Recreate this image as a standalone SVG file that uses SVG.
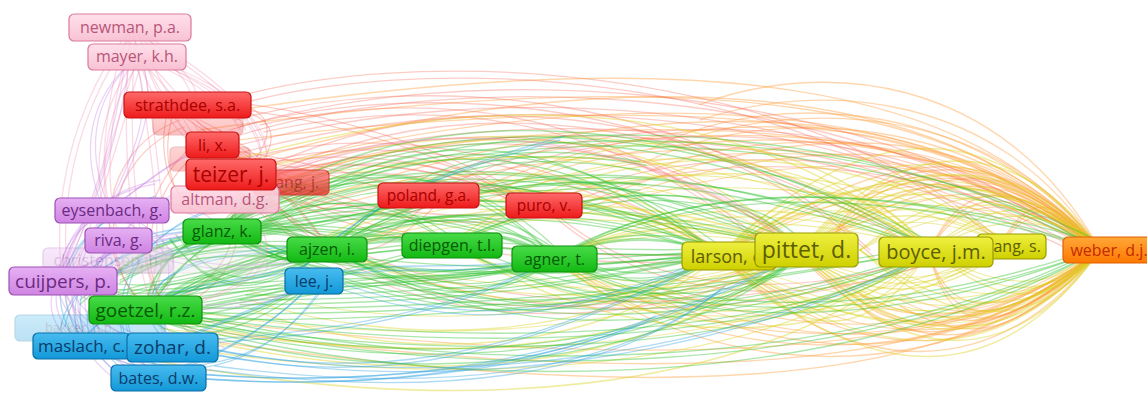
<svg xmlns="http://www.w3.org/2000/svg" xmlns:xlink="http://www.w3.org/1999/xlink" width="1147" height="399" viewBox="0 0 1147 399">
<defs>
<linearGradient id="gRed" x1="0" y1="0" x2="0" y2="1"><stop offset="0" stop-color="#ff6a6a"/><stop offset="1" stop-color="#ee1a1a"/></linearGradient>
<linearGradient id="gPink" x1="0" y1="0" x2="0" y2="1"><stop offset="0" stop-color="#ffdde8"/><stop offset="1" stop-color="#f8bccf"/></linearGradient>
<linearGradient id="gPurple" x1="0" y1="0" x2="0" y2="1"><stop offset="0" stop-color="#e6b0f4"/><stop offset="1" stop-color="#cf84e2"/></linearGradient>
<linearGradient id="gGreen" x1="0" y1="0" x2="0" y2="1"><stop offset="0" stop-color="#48dc48"/><stop offset="1" stop-color="#12b812"/></linearGradient>
<linearGradient id="gBlue" x1="0" y1="0" x2="0" y2="1"><stop offset="0" stop-color="#48bcf0"/><stop offset="1" stop-color="#1298d8"/></linearGradient>
<linearGradient id="gYellow" x1="0" y1="0" x2="0" y2="1"><stop offset="0" stop-color="#eef040"/><stop offset="1" stop-color="#cfd000"/></linearGradient>
<linearGradient id="gOrange" x1="0" y1="0" x2="0" y2="1"><stop offset="0" stop-color="#ffa838"/><stop offset="1" stop-color="#ff7800"/></linearGradient>
</defs>
<style>
text{font-family:"Open Sans","Liberation Sans",sans-serif;text-anchor:middle}
.c path{fill:none;stroke-width:1.3;stroke-linecap:round}
.red path{stroke:#f45a46;stroke-opacity:.3}
.org path{stroke:#ffa040;stroke-opacity:.42}
.yel path{stroke:#dcd21e;stroke-opacity:.42}
.grn path{stroke:#2cc02c;stroke-opacity:.4}
.blu path{stroke:#2aa0e0;stroke-opacity:.38}
.pur path{stroke:#c478e2;stroke-opacity:.32}
.pnk path{stroke:#f08cb0;stroke-opacity:.32}
.n rect{stroke-width:1.2}
.red-n rect{fill:url(#gRed);stroke:#c81212}
.red-n text{fill:#a80000}
.pnk-n rect{fill:url(#gPink);stroke:#dc7a9c;fill-opacity:.9}
.pnk-n text{fill:#b8557a}
.pur-n rect{fill:url(#gPurple);stroke:#9c52b4}
.pur-n text{fill:#6a2a82}
.grn-n rect{fill:url(#gGreen);stroke:#0e900e}
.grn-n text{fill:#075a07}
.blu-n rect{fill:url(#gBlue);stroke:#0a6ea6}
.blu-n text{fill:#0a3c6a}
.yel-n rect{fill:url(#gYellow);stroke:#9a9a00}
.yel-n text{fill:#5e5e00}
.org-n rect{fill:url(#gOrange);stroke:#e06000}
.org-n text{fill:#c42a00}
.faded{opacity:.28}
</style>
<rect width="1147" height="399" fill="#ffffff"/>
<g id="connectors" class="c">
<g id="cOrg" class="org">
<path d="M1100 250 C950 90,600 80,250 170"/>
<path d="M1100 250 C950 110,650 100,300 210"/>
<path d="M1100 250 C980 130,800 130,580 210"/>
<path d="M1100 250 C1000 160,950 170,800 250"/>
<path d="M1100 250 C1000 150,900 150,720 255"/>
<path d="M1100 250 C1000 350,900 350,800 255"/>
<path d="M1100 250 C1000 370,850 370,720 255"/>
<path d="M1100 250 C950 390,600 380,200 330"/>
<path d="M1100 250 C1000 330,950 330,930 255"/>
<path d="M1100 250 C1050 200,1030 200,1000 245"/>
<path d="M1100 250 C950 120,700 110,480 195"/>
<path d="M1100 250 C960 380,700 370,560 260"/>
<path d="M1100 250 C980 100,700 60,200 130"/>
<path d="M1100 250 C1000 140,850 170,830 250"/>
<path d="M1100 250 C990 120,780 100,650 160"/>
<path d="M1100 250 C1010 180,960 190,930 250"/>
<path d="M1100 250 C1010 330,900 340,860 300"/>
<path d="M1100 250 C1000 90,820 80,700 120"/>
<path d="M1100 250 C1020 320,980 340,900 300"/>
<path d="M1100 250 C950 360,800 350,650 290"/>
</g>
<use href="#cOrg" transform="translate(0,250) scale(1,1.12) translate(0,-250)"/>
<use href="#cOrg" transform="translate(0,250) scale(1,0.88) translate(0,-250)"/>
<g id="cRed" class="red">
<path d="M230 130 C450 60,850 70,1100 250"/>
<path d="M240 145 C480 80,820 90,1090 250"/>
<path d="M250 175 C500 100,800 110,1085 252"/>
<path d="M235 120 C420 70,700 90,870 250"/>
<path d="M260 180 C450 110,650 120,800 250"/>
<path d="M240 160 C380 120,550 150,730 255"/>
<path d="M220 140 C300 190,400 230,540 210"/>
<path d="M250 180 C350 150,450 170,545 205"/>
<path d="M230 170 C330 220,420 210,430 195"/>
<path d="M250 185 C400 320,700 330,930 255"/>
<path d="M200 150 C350 330,600 340,780 255"/>
<path d="M220 130 C300 250,350 280,430 200"/>
<path d="M180 120 C100 150,90 250,140 300"/>
<path d="M200 140 C120 200,130 320,220 340"/>
<path d="M190 110 C250 90,300 120,240 175"/>
<path d="M430 195 C600 100,900 100,1100 250"/>
<path d="M545 205 C700 130,950 150,1100 250"/>
<path d="M545 205 C650 300,800 300,930 255"/>
<path d="M210 105 C400 40,800 60,1000 240"/>
<path d="M260 125 C420 90,600 100,760 240"/>
<path d="M200 120 C260 150,280 180,290 185"/>
<path d="M180 110 C240 150,300 200,330 250"/>
<path d="M170 105 C150 160,180 230,225 200"/>
<path d="M230 150 C300 160,380 180,430 195"/>
<path d="M250 165 C400 140,480 180,545 205"/>
<path d="M220 180 C260 250,200 300,145 310"/>
<path d="M260 170 C450 80,680 100,930 250"/>
<path d="M290 182 C350 140,450 150,510 198"/>
<path d="M210 100 C330 110,450 150,545 205"/>
<path d="M240 170 C340 230,480 260,720 255"/>
</g>
<use href="#cRed" transform="translate(4,7)"/>
<g id="cYel" class="yel">
<path d="M800 250 C900 160,1000 170,1100 250"/>
<path d="M800 250 C900 340,1000 340,1100 250"/>
<path d="M720 255 C870 130,1000 140,1100 250"/>
<path d="M720 255 C870 370,1000 370,1100 250"/>
<path d="M930 250 C1000 200,1050 210,1100 250"/>
<path d="M930 250 C1000 300,1050 300,1100 250"/>
<path d="M800 250 C880 200,950 210,1010 245"/>
<path d="M800 250 C870 300,950 290,1010 245"/>
<path d="M720 255 C800 180,870 190,930 250"/>
<path d="M720 255 C800 330,870 330,930 250"/>
<path d="M800 250 C650 130,450 140,250 200"/>
<path d="M800 250 C650 360,400 370,170 320"/>
<path d="M720 255 C600 160,450 180,300 250"/>
<path d="M720 255 C600 340,400 350,250 300"/>
<path d="M930 250 C750 120,500 110,230 175"/>
<path d="M930 250 C750 380,450 390,160 345"/>
<path d="M800 250 C700 220,620 230,555 258"/>
<path d="M930 250 C800 200,650 210,555 258"/>
<path d="M800 250 C700 300,600 300,555 258"/>
<path d="M1010 245 C850 150,600 150,450 245"/>
<path d="M800 250 C900 150,1020 150,1100 250"/>
<path d="M800 250 C900 355,1020 350,1100 250"/>
<path d="M860 250 C950 190,1040 190,1100 250"/>
<path d="M860 250 C950 320,1040 320,1100 250"/>
<path d="M720 255 C850 170,1000 180,1100 250"/>
<path d="M720 255 C850 330,1000 330,1100 250"/>
<path d="M1010 245 C850 330,650 350,450 245"/>
<path d="M930 250 C800 330,650 330,555 258"/>
<path d="M800 250 C650 200,500 200,330 250"/>
<path d="M800 250 C650 310,500 310,330 250"/>
<path d="M720 255 C650 210,600 200,480 200"/>
<path d="M930 250 C820 150,650 130,500 200"/>
</g>
<use href="#cYel" transform="translate(0,252) scale(1,1.18) translate(0,-252)"/>
<use href="#cYel" transform="translate(0,252) scale(1,0.82) translate(0,-252)"/>
<g id="cGrn" class="grn">
<path d="M145 310 C350 200,550 200,720 255"/>
<path d="M220 230 C400 150,600 170,800 250"/>
<path d="M145 310 C350 380,650 370,800 255"/>
<path d="M220 230 C400 320,600 330,720 255"/>
<path d="M330 250 C450 200,500 220,555 258"/>
<path d="M330 250 C430 300,500 300,555 258"/>
<path d="M220 230 C300 280,450 290,555 258"/>
<path d="M145 310 C300 240,400 230,450 245"/>
<path d="M330 250 C380 240,420 240,450 245"/>
<path d="M450 245 C500 230,520 240,555 258"/>
<path d="M555 258 C620 230,680 240,720 255"/>
<path d="M555 258 C620 290,680 280,720 255"/>
<path d="M220 230 C400 100,700 120,930 250"/>
<path d="M145 310 C400 350,750 360,930 255"/>
<path d="M220 230 C450 110,850 120,1100 250"/>
<path d="M145 310 C450 390,850 380,1100 250"/>
<path d="M330 250 C500 150,700 170,930 250"/>
<path d="M330 250 C500 340,700 330,930 255"/>
<path d="M450 245 C600 180,750 190,800 250"/>
<path d="M450 245 C600 320,750 310,800 255"/>
<path d="M555 258 C700 180,900 190,1100 250"/>
<path d="M555 258 C700 330,900 320,1100 250"/>
<path d="M145 310 C200 270,260 250,330 250"/>
<path d="M220 230 C260 260,300 270,330 250"/>
<path d="M145 310 C150 260,190 240,220 230"/>
<path d="M100 280 C180 250,250 240,330 250"/>
<path d="M145 310 C250 300,400 260,450 245"/>
<path d="M80 300 C150 240,200 220,320 240"/>
<path d="M240 240 C400 130,550 130,720 255"/>
<path d="M200 240 C300 170,450 150,555 258"/>
<path d="M160 300 C300 270,420 300,555 258"/>
<path d="M180 250 C300 200,380 190,450 245"/>
<path d="M200 310 C350 280,500 270,720 255"/>
<path d="M150 260 C300 200,500 180,800 250"/>
<path d="M240 300 C400 300,550 290,720 255"/>
<path d="M260 230 C350 180,500 160,720 255"/>
<path d="M120 280 C250 220,400 190,555 258"/>
<path d="M220 230 C350 220,500 270,800 250"/>
<path d="M145 310 C300 320,600 310,930 250"/>
<path d="M190 260 C300 240,450 300,720 255"/>
<path d="M100 300 C200 270,300 260,450 245"/>
<path d="M220 230 C240 200,280 190,300 190"/>
<path d="M145 310 C180 340,240 330,315 280"/>
<path d="M170 240 C210 290,250 300,330 250"/>
<path d="M145 310 C200 230,260 210,330 250"/>
<path d="M60 280 C120 300,250 290,330 250"/>
<path d="M230 240 C330 230,480 180,640 190"/>
<path d="M330 250 C420 160,520 150,640 170"/>
</g>
<use href="#cGrn" transform="translate(0,255) scale(1,1.1) translate(0,-255)"/>
<use href="#cGrn" transform="translate(6,-5)"/>
<g id="cBlu" class="blu">
<path d="M170 345 C400 400,700 370,930 255"/>
<path d="M160 375 C400 400,600 360,800 255"/>
<path d="M170 345 C350 390,500 370,720 255"/>
<path d="M315 280 C450 330,550 330,720 255"/>
<path d="M300 270 C370 200,450 170,560 140"/>
<path d="M80 345 C40 300,60 230,150 200"/>
<path d="M120 375 C60 330,80 260,200 250"/>
<path d="M170 345 C230 320,280 300,315 280"/>
<path d="M80 345 C150 380,250 390,320 290"/>
<path d="M160 375 C220 360,280 320,315 280"/>
<path d="M210 370 C400 395,600 390,720 290"/>
<path d="M80 345 C60 280,100 230,220 230"/>
<path d="M170 345 C120 300,150 250,330 250"/>
<path d="M160 375 C100 340,120 290,145 310"/>
<path d="M80 345 C100 300,200 290,300 270"/>
<path d="M315 280 C400 260,480 280,555 258"/>
<path d="M170 345 C300 340,450 320,555 258"/>
<path d="M160 375 C350 395,550 370,650 320"/>
<path d="M130 350 C100 280,150 220,250 200"/>
<path d="M60 330 C70 280,120 250,180 240"/>
</g>
<use href="#cBlu" transform="translate(5,-4)"/>
<g id="cPur" class="pur">
<path d="M110 210 C40 240,50 330,170 345"/>
<path d="M60 280 C40 330,100 370,170 345"/>
<path d="M118 240 C80 280,90 330,170 345"/>
<path d="M110 210 C180 190,220 220,220 230"/>
<path d="M60 280 C120 240,180 230,220 230"/>
<path d="M110 210 C140 150,160 100,140 60"/>
<path d="M60 280 C100 200,120 130,130 60"/>
<path d="M118 240 C180 260,240 280,330 250"/>
<path d="M60 280 C140 300,200 320,300 290"/>
<path d="M110 210 C70 260,60 330,120 375"/>
<path d="M60 280 C80 340,140 380,210 370"/>
<path d="M118 240 C60 290,100 360,160 375"/>
<path d="M110 210 C170 230,200 270,145 310"/>
<path d="M60 280 C100 300,130 310,145 310"/>
<path d="M110 210 C160 170,190 150,210 145"/>
<path d="M118 240 C150 200,180 180,225 200"/>
<path d="M60 280 C70 230,100 190,160 180"/>
<path d="M110 210 C80 140,100 90,137 57"/>
</g>
<use href="#cPur" transform="translate(-5,4)"/>
<g id="cPnk" class="pnk">
<path d="M130 30 C100 100,100 200,110 210"/>
<path d="M137 57 C90 120,90 200,118 240"/>
<path d="M130 30 C160 100,200 150,225 200"/>
<path d="M137 57 C180 100,220 150,225 200"/>
<path d="M137 57 C110 150,80 250,60 280"/>
<path d="M130 30 C60 120,40 250,80 345"/>
<path d="M137 57 C200 80,230 110,240 130"/>
<path d="M225 200 C350 120,600 100,800 250"/>
<path d="M137 57 C250 90,280 150,250 180"/>
<path d="M130 30 C200 70,250 110,260 150"/>
<path d="M137 57 C150 150,170 250,145 310"/>
<path d="M130 30 C120 150,130 280,170 345"/>
<path d="M137 57 C160 120,200 160,210 145"/>
<path d="M130 30 C170 60,200 90,188 105"/>
<path d="M225 200 C300 250,250 300,145 310"/>
</g>
<use href="#cPnk" transform="translate(6,0)"/>
</g>
<g id="n-bakker" class="n blu-n faded"><rect x="15" y="315" width="150" height="26" rx="5"/><text x="80" y="332" font-size="13">bakker, a.b.</text></g>
<g id="n-christensen" class="n pur-n faded"><rect x="43" y="248" width="130" height="25" rx="5"/><text x="108" y="266" font-size="16">christensen, h.</text></g>
<g id="n-faded2" class="n faded"><rect x="122" y="248" width="145" height="25" rx="5" fill="#e0e6dc" stroke="#b0b8aa"/></g>
<g id="n-faded3" class="n red-n faded"><rect x="153" y="115" width="90" height="20" rx="5"/></g>
<g id="n-faded4" class="n red-n faded"><rect x="170" y="147" width="80" height="24" rx="5"/></g>
<g id="n-newman" class="n pnk-n"><rect x="69" y="14" width="122" height="27" rx="5"/><text x="130" y="33" font-size="16">newman, p.a.</text></g>
<g id="n-mayer" class="n pnk-n"><rect x="88" y="44" width="98" height="26" rx="5"/><text x="137" y="62" font-size="16">mayer, k.h.</text></g>
<g id="n-strathdee" class="n red-n"><rect x="124" y="92" width="127" height="26" rx="5"/><text x="187.5" y="110.5" font-size="16">strathdee, s.a.</text></g>
<g id="n-li" class="n red-n"><rect x="186" y="132" width="53" height="26" rx="5"/><text x="212.5" y="150.5" font-size="16">li, x.</text></g>
<g id="n-wang-j" class="n red-n" opacity="0.72"><rect x="253" y="170" width="76" height="25" rx="5"/><text x="291" y="188" font-size="16">wang, j.</text></g>
<g id="n-altman" class="n pnk-n"><rect x="171" y="186" width="108" height="27" rx="5"/><text x="225" y="205" font-size="16">altman, d.g.</text></g>
<g id="n-teizer" class="n red-n"><rect x="186" y="159" width="90" height="31" rx="5"/><text x="231" y="182" font-size="21">teizer, j.</text></g>
<g id="n-poland" class="n red-n"><rect x="378" y="183" width="101" height="25" rx="5"/><text x="428.5" y="201" font-size="15.5">poland, g.a.</text></g>
<g id="n-puro" class="n red-n"><rect x="506" y="193" width="76" height="25" rx="5"/><text x="544" y="211" font-size="15.5">puro, v.</text></g>
<g id="n-eysenbach" class="n pur-n"><rect x="55" y="198" width="114" height="25" rx="5"/><text x="112" y="216" font-size="16">eysenbach, g.</text></g>
<g id="n-riva" class="n pur-n"><rect x="85" y="228" width="67" height="25" rx="5"/><text x="118.5" y="246" font-size="16">riva, g.</text></g>
<g id="n-cuijpers" class="n pur-n"><rect x="9" y="267" width="108" height="28" rx="5"/><text x="63" y="287.5" font-size="19">cuijpers, p.</text></g>
<g id="n-glanz" class="n grn-n"><rect x="183" y="219" width="78" height="25" rx="5"/><text x="222" y="237" font-size="16">glanz, k.</text></g>
<g id="n-ajzen" class="n grn-n"><rect x="287" y="237" width="80" height="25" rx="5"/><text x="327" y="255" font-size="16">ajzen, i.</text></g>
<g id="n-diepgen" class="n grn-n"><rect x="402" y="233" width="100" height="25" rx="5"/><text x="452" y="251" font-size="16">diepgen, t.l.</text></g>
<g id="n-agner" class="n grn-n"><rect x="512" y="246" width="85" height="26" rx="5"/><text x="554.5" y="265" font-size="16">agner, t.</text></g>
<g id="n-goetzel" class="n grn-n"><rect x="89" y="296" width="113" height="28" rx="5"/><text x="145.5" y="317" font-size="19">goetzel, r.z.</text></g>
<g id="n-lee" class="n blu-n"><rect x="285" y="268" width="58" height="26" rx="5"/><text x="314" y="286.5" font-size="16">lee, j.</text></g>
<g id="n-maslach" class="n blu-n"><rect x="33" y="333" width="97" height="26" rx="5"/><text x="81.5" y="352" font-size="17">maslach, c.</text></g>
<g id="n-zohar" class="n blu-n"><rect x="127" y="333" width="91" height="29" rx="5"/><text x="172.5" y="354" font-size="19">zohar, d.</text></g>
<g id="n-bates" class="n blu-n"><rect x="111" y="365" width="95" height="26" rx="5"/><text x="158.5" y="383.5" font-size="16">bates, d.w.</text></g>
<g id="n-larson" class="n yel-n"><rect x="682" y="242" width="94" height="28" rx="5"/><text x="729" y="262.5" font-size="18">larson, e.</text></g>
<g id="n-pittet" class="n yel-n"><rect x="755" y="233" width="103" height="34" rx="5"/><text x="806.5" y="258" font-size="23">pittet, d.</text></g>
<g id="n-wang-s" class="n yel-n"><rect x="977" y="234" width="69" height="25" rx="5"/><text x="1011" y="252" font-size="16">wang, s.</text></g>
<g id="n-boyce" class="n yel-n"><rect x="879" y="237" width="114" height="30" rx="5"/><text x="936" y="259" font-size="20">boyce, j.m.</text></g>
<g id="n-weber" class="n org-n"><rect x="1063" y="237" width="100" height="26" rx="5"/><text x="1109" y="256" font-size="16">weber, d.j.</text></g>
</svg>
